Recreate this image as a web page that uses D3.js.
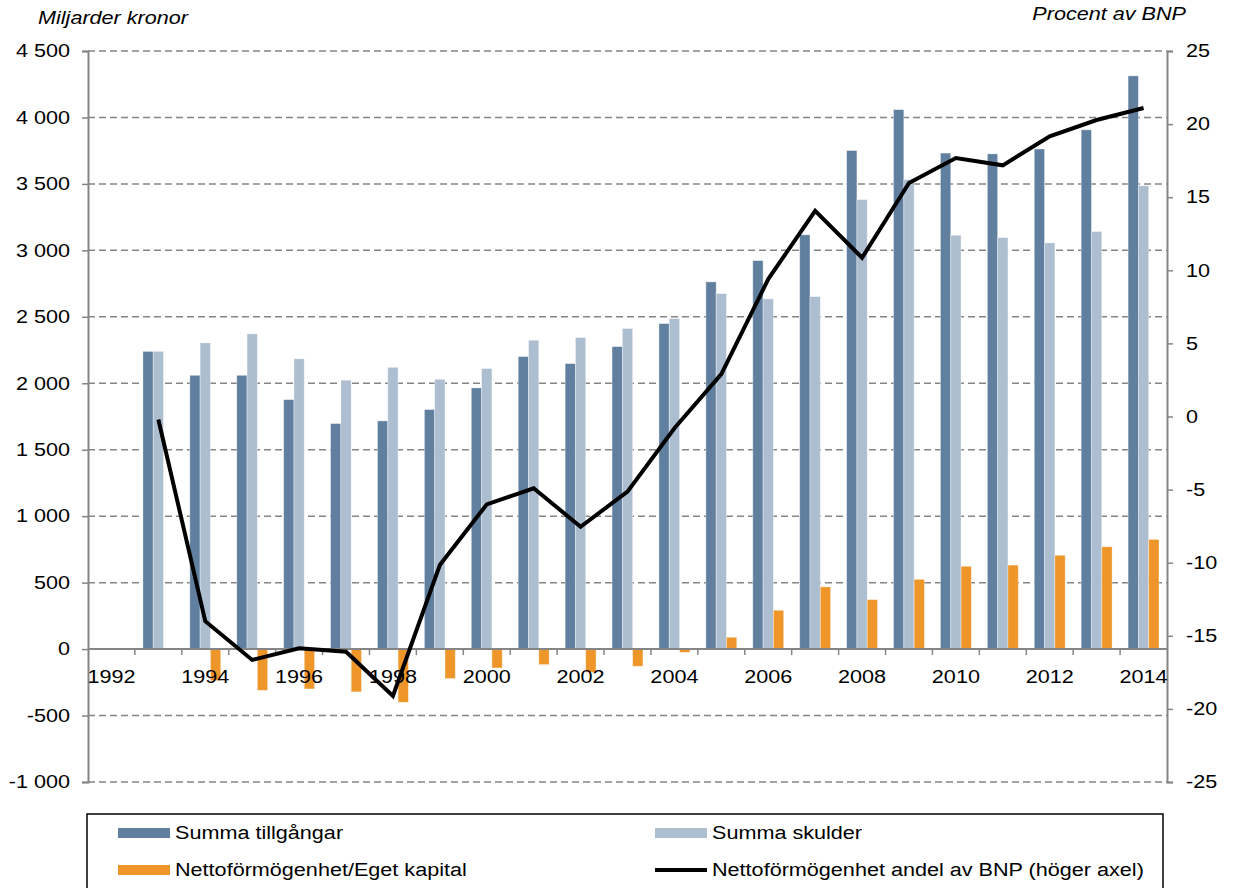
<!DOCTYPE html>
<html>
  <head>
    <meta charset="utf-8" />
    <script src="https://d3js.org/d3.v7.min.js"></script>
    <style>
      body { margin: 0; background: #fff; }
      svg text { font-family: "Liberation Sans", Arial, sans-serif; }
    </style>
  </head>
  <body>
    <script>
      // Data
      const years = [1992, 1993, 1994, 1995, 1996, 1997, 1998, 1999, 2000, 2001, 2002, 2003,
        2004, 2005, 2006, 2007, 2008, 2009, 2010, 2011, 2012, 2013, 2014];
      const tillgangar = [null, 2240, 2060, 2060, 1877, 1697, 1717, 1802, 1965, 2201, 2148, 2276,
        2449, 2763, 2923, 3117, 3751, 4059, 3732, 3726, 3763, 3907, 4313];
      const skulder = [null, 2240, 2304, 2372, 2184, 2023, 2120, 2030, 2111, 2324, 2344, 2412,
        2487, 2675, 2635, 2652, 3382, 3532, 3114, 3096, 3056, 3142, 3486];
      const netto = [null, 0, -237, -310, -300, -322, -400, -222, -142, -117, -175, -129,
        -25, 89, 292, 468, 372, 525, 623, 632, 706, 770, 825];
      const andelBNP = [null, -0.2, -14.0, -16.65, -15.86, -16.09, -19.12, -10.16, -6.01, -4.91, -7.54, -5.14,
        -0.8, 2.9, 9.4, 14.06, 10.86, 15.97, 17.68, 17.18, 19.16, 20.28, 21.1];

      const leftTicks = [-1000, -500, 0, 500, 1000, 1500, 2000, 2500, 3000, 3500, 4000, 4500];
      const rightTicks = [-25, -20, -15, -10, -5, 0, 5, 10, 15, 20, 25];
      const labelYears = years.filter((y) => y % 2 === 0);

      const seriesNames = ["Summa tillgångar", "Summa skulder", "Nettoförmögenhet/Eget kapital"];
      const lineName = "Nettoförmögenhet andel av BNP (höger axel)";
      const colors = ["#61809f", "#adbed1", "#ee9629"];

      const width = 1234, height = 888;
      const plot = { left: 88, right: 1167, top: 51, bottom: 782 };
      const fs = 18;       // font size
      const stretch = 1.2; // the original text is drawn wider than Arial

      // thousands with a space, plain hyphen for negatives
      const fmt = (d) => String(d).replace(/\B(?=(\d{3})+(?!\d))/g, " ");

      const svg = d3.select("body").append("svg")
        .attr("width", width)
        .attr("height", height);

      const x0 = d3.scaleBand().domain(years).range([plot.left, plot.right]);
      const x1 = d3.scaleBand().domain([0, 1, 2]).range([8, x0.bandwidth() - 8]);
      const y = d3.scaleLinear().domain([-1000, 4500]).range([plot.bottom, plot.top]);
      const y2 = d3.scaleLinear().domain([-25, 25]).range([plot.bottom, plot.top]);

      // gridlines
      svg.append("g")
        .selectAll("line")
        .data(leftTicks.filter((d) => d !== 0))
        .join("line")
        .attr("x1", plot.left)
        .attr("x2", plot.right)
        .attr("y1", (d) => y(d))
        .attr("y2", (d) => y(d))
        .attr("stroke", "#858585")
        .attr("stroke-width", 1.5)
        .attr("stroke-dasharray", "7,4");

      // bars
      const rows = years.map((yr, i) => ({ yr, vals: [tillgangar[i], skulder[i], netto[i]] }));
      const groups = svg.append("g")
        .selectAll("g")
        .data(rows)
        .join("g")
        .attr("transform", (d) => `translate(${x0(d.yr)},0)`);

      groups.selectAll("rect")
        .data((d) => d.vals.map((v, k) => ({ v, k })).filter((e) => e.v !== null))
        .join("rect")
        .attr("x", (e) => x1(e.k))
        .attr("width", x1.bandwidth())
        .attr("y", (e) => y(Math.max(0, e.v)))
        .attr("height", (e) => Math.abs(y(e.v) - y(0)))
        .attr("fill", (e) => colors[e.k])
        .attr("stroke", "rgba(255,255,255,0.45)")
        .attr("stroke-width", 0.8);

      // left axis
      const leftAxis = svg.append("g")
        .attr("transform", `translate(${plot.left},0)`)
        .call(d3.axisLeft(y).tickValues(leftTicks).tickSize(6).tickPadding(12).tickFormat(fmt));

      // right axis
      const rightAxis = svg.append("g")
        .attr("transform", `translate(${plot.right},0)`)
        .call(d3.axisRight(y2).tickValues(rightTicks).tickSize(6).tickPadding(13).tickFormat(fmt));

      [leftAxis, rightAxis].forEach((ax) => {
        ax.select(".domain").attr("stroke", "#858585").attr("stroke-width", 2);
        ax.selectAll(".tick line").attr("stroke", "#858585").attr("stroke-width", 1.5);
        ax.selectAll("text").attr("font-size", fs).attr("fill", "#000");
      });

      // category axis at zero
      const zeroY = y(0);
      svg.append("line")
        .attr("x1", plot.left)
        .attr("x2", plot.right)
        .attr("y1", zeroY)
        .attr("y2", zeroY)
        .attr("stroke", "#858585")
        .attr("stroke-width", 2);

      svg.append("g")
        .selectAll("line")
        .data(years.slice(1))
        .join("line")
        .attr("x1", (d) => x0(d))
        .attr("x2", (d) => x0(d))
        .attr("y1", zeroY)
        .attr("y2", zeroY + 6)
        .attr("stroke", "#858585")
        .attr("stroke-width", 1.5);

      svg.append("g")
        .selectAll("text")
        .data(labelYears)
        .join("text")
        .attr("x", (d) => x0(d) + x0.bandwidth() / 2)
        .attr("y", zeroY + 34)
        .attr("text-anchor", "middle")
        .attr("font-size", fs)
        .text((d) => d);

      // line on the right axis
      const line = d3.line()
        .defined((d) => d.v !== null)
        .x((d) => x0(d.yr) + x0.bandwidth() / 2)
        .y((d) => y2(d.v));

      svg.append("path")
        .datum(years.map((yr, i) => ({ yr, v: andelBNP[i] })))
        .attr("d", line)
        .attr("fill", "none")
        .attr("stroke", "#000")
        .attr("stroke-width", 4);

      // axis titles
      svg.append("text")
        .attr("x", 38)
        .attr("y", 24)
        .attr("font-size", fs)
        .attr("font-style", "italic")
        .text("Miljarder kronor");

      svg.append("text")
        .attr("x", 1186)
        .attr("y", 19.5)
        .attr("text-anchor", "end")
        .attr("font-size", fs)
        .attr("font-style", "italic")
        .text("Procent  av BNP");

      // legend
      const legend = svg.append("g");
      legend.append("rect")
        .attr("x", 87)
        .attr("y", 814)
        .attr("width", 1163 - 87)
        .attr("height", 100)
        .attr("fill", "#fff")
        .attr("stroke", "#000")
        .attr("stroke-width", 1.5);

      const legendItems = [
        { name: seriesNames[0], color: colors[0], type: "bar", x: 118, y: 833 },
        { name: seriesNames[1], color: colors[1], type: "bar", x: 655, y: 833 },
        { name: seriesNames[2], color: colors[2], type: "bar", x: 118, y: 870 },
        { name: lineName, color: "#000", type: "line", x: 655, y: 870 }
      ];

      const li = legend.selectAll("g.item")
        .data(legendItems)
        .join("g")
        .attr("class", "item")
        .attr("transform", (d) => `translate(${d.x},${d.y})`);

      li.append("rect")
        .attr("x", 0)
        .attr("y", (d) => (d.type === "bar" ? -5 : -2))
        .attr("width", 52)
        .attr("height", (d) => (d.type === "bar" ? 10 : 4))
        .attr("fill", (d) => d.color);

      li.append("text")
        .attr("x", 57)
        .attr("y", 6)
        .attr("font-size", fs)
        .text((d) => d.name);

      // widen all text a bit to match the original rendering
      svg.selectAll("text").each(function () {
        const len = this.getComputedTextLength();
        this.setAttribute("textLength", len * stretch);
        this.setAttribute("lengthAdjust", "spacingAndGlyphs");
      });
    </script>
  </body>
</html>
